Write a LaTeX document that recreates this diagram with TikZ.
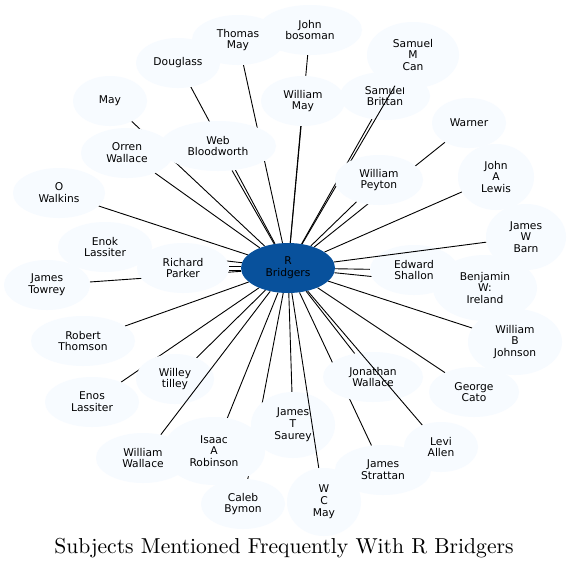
\documentclass[tikz,border=0pt]{standalone}
\usepackage{fontspec}
\setsansfont{DejaVu Sans}
\newfontfamily\ttlfont{lmroman10-regular}[Extension=.otf]
\usetikzlibrary{shapes.geometric}
\definecolor{lightfill}{HTML}{F7FBFF}
\definecolor{darkfill}{HTML}{08519C}
\pgfdeclarelayer{bglayer}
\pgfdeclarelayer{edgelayer}
\pgfdeclarelayer{midnodes}
\pgfdeclarelayer{midedges}
\pgfsetlayers{bglayer,edgelayer,midnodes,midedges,main}
\tikzset{
  subj/.style={ellipse, fill=lightfill, draw=none, inner sep=0pt, align=center,
    font=\sffamily\fontsize{10.7}{11.8}\selectfont},
  hub/.style={subj, fill=darkfill},
  sz/.style 2 args={minimum width=#1*2, minimum height=#2*2},
  link/.style={draw=black, line width=0.9pt},
  ttl/.style={font=\ttlfont\fontsize{21.6}{25}\selectfont, inner sep=0pt}
}
\begin{document}
\begin{tikzpicture}[x=1pt,y=-1pt]
\begin{pgfonlayer}{bglayer}
\fill[white] (0,0) rectangle (569,571);
\end{pgfonlayer}
\useasboundingbox (0,0) rectangle (569,571);
% nodes
\node[subj, sz={52}{25}] (jb) at (310,30) {John\\bosoman};
\node[subj, sz={46}{25}] (tm) at (238,40) {Thomas\\May};
\node[subj, sz={42}{25}] (dg) at (178,63) {Douglass};
\node[subj, sz={37}{25}] (my) at (110,101) {May};
\node[subj, sz={46}{25}] (ow) at (127,153) {Orren\\Wallace};
\node[subj, sz={58}{25}] (wb) at (218,146) {Web\\Bloodworth};
\node[subj, sz={46}{25}] (wk) at (59,193) {O\\Walkins};
\node[subj, sz={42}{25}] (wm) at (303,101) {William\\May};
\begin{pgfonlayer}{midnodes}
\node[subj, sz={45}{24}] (sb) at (385,96) {Samuel\\Brittan};
\node[subj, sz={50}{25}] (jw) at (373,377) {Jonathan\\Wallace};
\node[subj, sz={42}{33}] (jts) at (293,425) {James\\T\\Saurey};
\node[subj, sz={44}{25}] (es) at (414,270) {Edward\\Shallon};
\node[subj, sz={39}{25}] (wt) at (175,379) {Willey\\tilley};
\end{pgfonlayer}
\node[subj, sz={46}{33}] (smc) at (413,55) {Samuel\\M\\Can};
\node[subj, sz={37}{25}] (wn) at (469,123) {Warner};
\node[subj, sz={44}{25}] (wp) at (379,180) {William\\Peyton};
\node[subj, sz={38}{33}] (jal) at (496,177) {John\\A\\Lewis};
\node[subj, sz={40}{33}] (jwb) at (526,237) {James\\W\\Barn};
\node[subj, sz={52}{33}] (bwi) at (485,288) {Benjamin\\W:\\Ireland};
\node[subj, sz={47}{33}] (wbj) at (515,342) {William\\B\\Johnson};
\node[subj, sz={45}{25}] (gc) at (474,392) {George\\Cato};
\node[subj, sz={37}{25}] (la) at (441,447) {Levi\\Allen};
\node[subj, sz={48}{25}] (js) at (383,470) {James\\Strattan};
\node[subj, sz={37}{34}] (wcm) at (324,502) {W\\C\\May};
\node[subj, sz={42}{25}] (cb) at (243,504) {Caleb\\Bymon};
\node[subj, sz={51}{34}] (iar) at (214,451) {Isaac\\A\\Robinson};
\node[subj, sz={47}{25}] (ww) at (143,458) {William\\Wallace};
\node[subj, sz={47}{25}] (el) at (92,402) {Enos\\Lassiter};
\node[subj, sz={52}{25}] (rt) at (83,341) {Robert\\Thomson};
\node[subj, sz={43}{25}] (jt) at (47,285) {James\\Towrey};
\node[subj, sz={47}{25}] (ekl) at (105,247) {Enok\\Lassiter};
\node[subj, sz={46}{25}] (rp) at (183,268) {Richard\\Parker};
\node[hub, sz={47}{25}] (rb) at (288,268) {R\\Bridgers};
% edges
\begin{pgfonlayer}{edgelayer}
\foreach \t in {jb,tm,dg,my,ow,wb,wk,wm,sb,wn,wp,jal,es,bwi,wbj,gc,js,jw,jts,cb,iar,el,wt,rt,jt,ekl}
  \draw[link] (rb) -- (\t);
\draw[link] ([yshift=2]rb.west) -- ([yshift=2]rp.east);
\draw[link] ([yshift=-2]rb.west) -- ([yshift=-2]rp.east);
\end{pgfonlayer}
\begin{pgfonlayer}{midedges}
\draw[link] (rb) -- (smc);
\draw[link] (rb) -- (la);
\draw[link] (rb) -- (wcm);
\draw[link] (rb) -- (jwb);
\draw[link] (rb) -- (ww);
\end{pgfonlayer}
\node[ttl] (title) at (284,548) {Subjects Mentioned Frequently With R Bridgers};
\end{tikzpicture}
\end{document}
